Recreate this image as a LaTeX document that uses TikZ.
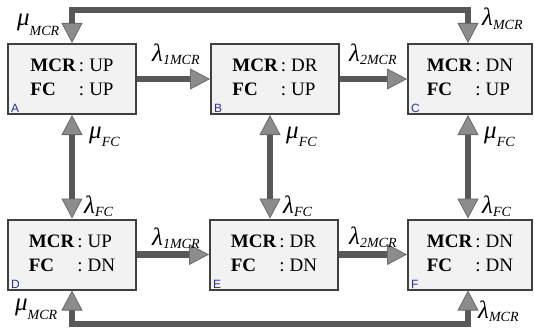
\documentclass[tikz,border=0pt]{standalone}
\usepackage{fontspec}
\setmainfont{Liberation Serif}
\setsansfont{Liberation Sans}
\usetikzlibrary{arrows.meta}

\definecolor{boxfill}{HTML}{F2F2F2}
\definecolor{boxline}{HTML}{404040}
\definecolor{wire}{HTML}{585858}
\definecolor{tipfill}{HTML}{8C8C8C}
\definecolor{tipedge}{HTML}{6A6A6A}
\definecolor{tagblue}{HTML}{2E2EA0}

% state contents: two rows, colons aligned
\newcommand{\statetext}[2]{{\fontsize{19}{24}\selectfont
  \begin{tabular}{@{}l@{\hspace{3pt}}l@{}}
    \textbf{MCR} & {\fontsize{19}{19}\selectfont :\hspace{5pt}#1}\\
    \textbf{FC}  & {\fontsize{19}{19}\selectfont :\hspace{5pt}#2}
  \end{tabular}}}

% transition rate: raised Greek letter followed by an italic subscript
\newcommand{\ratelabel}[3]{\raisebox{#3}{\fontsize{25}{25}\selectfont\itshape #1}{\fontsize{14}{14}\selectfont\itshape #2}}

\begin{document}
\begin{tikzpicture}[x=1pt,y=-1pt,
  >={Triangle[width=21pt,length=20pt,line width=0.8pt,color=tipedge,fill=tipfill]},
  state/.style={draw=boxline, line width=2pt, fill=boxfill,
    minimum width=128pt, minimum height=70pt, inner sep=0pt},
  narrowstate/.style={state, minimum width=124pt},
  link/.style={draw=wire, line width=6.5pt, ->},
  twoway/.style={draw=wire, line width=6.5pt, <->},
  tag/.style={font=\sffamily\fontsize{12}{12}\selectfont, text=tagblue,
    inner sep=0pt, anchor=south west},
  rate/.style={inner sep=0pt, anchor=base west}]

\useasboundingbox (0,0) rectangle (535,329);

% states
\node[state]       (A) at (72,79)    {\statetext{UP}{UP}};
\node[state]       (B) at (275,79)   {\statetext{DR}{UP}};
\node[narrowstate] (C) at (470,79)   {\statetext{DN}{UP}};
\node[state]       (D) at (72,254.5) {\statetext{UP}{DN}};
\node[state]       (E) at (274,254.5){\statetext{DR}{DN}};
\node[narrowstate] (F) at (470,254.5){\statetext{DN}{DN}};

% state letters
\node[tag] (tagA) at ([xshift=4pt,yshift=2pt]A.south west) {A};
\node[tag] (tagB) at ([xshift=4pt,yshift=2pt]B.south west) {B};
\node[tag] (tagC) at ([xshift=4pt,yshift=2pt]C.south west) {C};
\node[tag] (tagD) at ([xshift=4pt,yshift=2pt]D.south west) {D};
\node[tag] (tagE) at ([xshift=4pt,yshift=2pt]E.south west) {E};
\node[tag] (tagF) at ([xshift=4pt,yshift=2pt]F.south west) {F};

% loop corners
\coordinate (topL) at (72,10);
\coordinate (topR) at (468,10);
\coordinate (botL) at (72,324);
\coordinate (botR) at (468,324);

% horizontal transitions
\draw[link] (A.east) -- (B.west);
\draw[link] (B.east) -- (C.west);
\draw[link] (D.east) -- (E.west);
\draw[link] (E.east) -- (F.west);

% vertical transitions
\draw[twoway] (A.south) -- (D.north);
\draw[twoway] ([xshift=-5pt]B.south) -- ([xshift=-4pt]E.north);
\draw[twoway] ([xshift=-2pt]C.south) -- ([xshift=-2pt]F.north);

% outer loops
\draw[twoway] (A.north) -- (topL) -- (topR) -- ([xshift=-2pt]C.north);
\draw[twoway] (D.south) -- (botL) -- (botR) -- ([xshift=-2pt]F.south);

% rate labels
\node[rate] (muA)  at (17,36)   {\ratelabel{μ}{MCR}{10pt}};
\node[rate] (laC)  at (482,30)  {\ratelabel{λ}{MCR}{4pt}};
\node[rate] (laAB) at (152,65)  {\ratelabel{λ}{1MCR}{3pt}};
\node[rate] (laBC) at (349,64)  {\ratelabel{λ}{2MCR}{3pt}};
\node[rate] (mfA)  at (89,146)  {\ratelabel{μ}{FC}{8pt}};
\node[rate] (mfB)  at (286,146) {\ratelabel{μ}{FC}{8pt}};
\node[rate] (mfC)  at (484,146) {\ratelabel{μ}{FC}{8pt}};
\node[rate] (lfD)  at (84,216)  {\ratelabel{λ}{FC}{3pt}};
\node[rate] (lfE)  at (283,216) {\ratelabel{λ}{FC}{3pt}};
\node[rate] (lfF)  at (482,216) {\ratelabel{λ}{FC}{3pt}};
\node[rate] (laDE) at (152,248) {\ratelabel{λ}{1MCR}{3pt}};
\node[rate] (laEF) at (349,247) {\ratelabel{λ}{2MCR}{3pt}};
\node[rate] (muD)  at (15,319)  {\ratelabel{μ}{MCR}{9pt}};
\node[rate] (laF)  at (478,321) {\ratelabel{λ}{MCR}{3pt}};

\end{tikzpicture}
\end{document}
